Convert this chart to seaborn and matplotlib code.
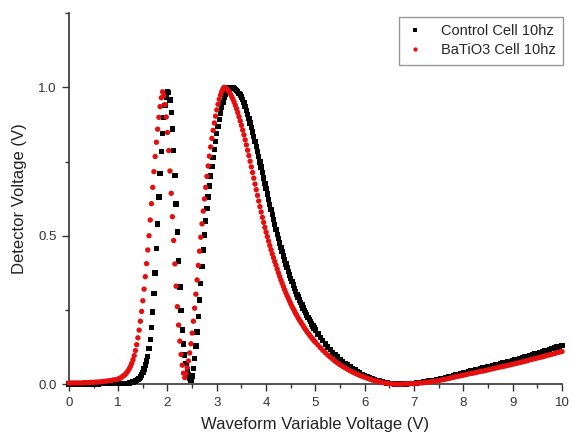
import pandas as pd
import matplotlib
matplotlib.use("Agg")
import matplotlib.pyplot as plt
from matplotlib.ticker import MultipleLocator
import seaborn as sns

# sample voltages (V), in three stretches
x_left = [0.00, 0.05, 0.10, 0.15, 0.20, 0.25, 0.30, 0.35, 0.40, 0.45,
          0.50, 0.55, 0.60, 0.65, 0.70, 0.75, 0.80, 0.85, 0.90, 0.95]
x_mid = [1.000, 1.025, 1.050, 1.075, 1.100, 1.125, 1.150, 1.175,
         1.200, 1.225, 1.250, 1.275, 1.300, 1.325, 1.350, 1.375,
         1.400, 1.425, 1.450, 1.475, 1.500, 1.525, 1.550, 1.575,
         1.600, 1.625, 1.650, 1.675, 1.700, 1.725, 1.750, 1.775,
         1.800, 1.825, 1.850, 1.875, 1.900, 1.925, 1.950, 1.975,
         2.000, 2.025, 2.050, 2.075, 2.100, 2.125, 2.150, 2.175,
         2.200, 2.225, 2.250, 2.275, 2.300, 2.325, 2.350, 2.375,
         2.400, 2.425, 2.450, 2.475, 2.500, 2.525, 2.550, 2.575,
         2.600, 2.625, 2.650, 2.675, 2.700, 2.725, 2.750, 2.775,
         2.800, 2.825, 2.850, 2.875, 2.900, 2.925, 2.950, 2.975,
         3.000, 3.025, 3.050, 3.075, 3.100, 3.125, 3.150, 3.175,
         3.200, 3.225, 3.250, 3.275, 3.300, 3.325, 3.350, 3.375,
         3.400, 3.425, 3.450, 3.475, 3.500, 3.525, 3.550, 3.575,
         3.600, 3.625, 3.650, 3.675, 3.700, 3.725, 3.750, 3.775,
         3.800, 3.825, 3.850, 3.875, 3.900, 3.925, 3.950, 3.975,
         4.000, 4.025, 4.050, 4.075, 4.100, 4.125, 4.150, 4.175,
         4.200, 4.225, 4.250, 4.275, 4.300, 4.325, 4.350, 4.375,
         4.400, 4.425, 4.450, 4.475, 4.500, 4.525, 4.550, 4.575,
         4.600, 4.625, 4.650, 4.675, 4.700, 4.725, 4.750, 4.775,
         4.800, 4.825, 4.850, 4.875, 4.900, 4.925, 4.950, 4.975]
x_right = [5.00, 5.05, 5.10, 5.15, 5.20, 5.25, 5.30, 5.35, 5.40, 5.45,
           5.50, 5.55, 5.60, 5.65, 5.70, 5.75, 5.80, 5.85, 5.90, 5.95,
           6.00, 6.05, 6.10, 6.15, 6.20, 6.25, 6.30, 6.35, 6.40, 6.45,
           6.50, 6.55, 6.60, 6.65, 6.70, 6.75, 6.80, 6.85, 6.90, 6.95,
           7.00, 7.05, 7.10, 7.15, 7.20, 7.25, 7.30, 7.35, 7.40, 7.45,
           7.50, 7.55, 7.60, 7.65, 7.70, 7.75, 7.80, 7.85, 7.90, 7.95,
           8.00, 8.05, 8.10, 8.15, 8.20, 8.25, 8.30, 8.35, 8.40, 8.45,
           8.50, 8.55, 8.60, 8.65, 8.70, 8.75, 8.80, 8.85, 8.90, 8.95,
           9.00, 9.05, 9.10, 9.15, 9.20, 9.25, 9.30, 9.35, 9.40, 9.45,
           9.50, 9.55, 9.60, 9.65, 9.70, 9.75, 9.80, 9.85, 9.90, 9.95,
           10.00]

# detector voltage, control cell
control_left = [0.001, 0.001, 0.001, 0.001, 0.001, 0.001, 0.001, 0.001, 0.001, 0.001,
                0.001, 0.001, 0.001, 0.002, 0.002, 0.002, 0.002, 0.002, 0.002, 0.002]
control_mid = [0.002, 0.002, 0.002, 0.002, 0.003, 0.003, 0.003, 0.003,
               0.003, 0.004, 0.005, 0.006, 0.007, 0.008, 0.010, 0.012,
               0.015, 0.019, 0.024, 0.031, 0.040, 0.051, 0.064, 0.078,
               0.094, 0.120, 0.150, 0.190, 0.243, 0.305, 0.374, 0.456,
               0.540, 0.630, 0.710, 0.783, 0.845, 0.898, 0.938, 0.968,
               0.986, 0.982, 0.957, 0.915, 0.859, 0.787, 0.703, 0.607,
               0.512, 0.415, 0.327, 0.248, 0.182, 0.135, 0.098, 0.070,
               0.048, 0.031, 0.019, 0.014, 0.028, 0.052, 0.086, 0.128,
               0.176, 0.228, 0.283, 0.340, 0.397, 0.452, 0.503, 0.549,
               0.591, 0.630, 0.667, 0.701, 0.733, 0.763, 0.791, 0.818,
               0.844, 0.868, 0.891, 0.913, 0.933, 0.951, 0.966, 0.978,
               0.987, 0.994, 0.998, 1.000, 1.000, 0.999, 0.997, 0.993,
               0.989, 0.985, 0.980, 0.974, 0.967, 0.958, 0.948, 0.936,
               0.922, 0.909, 0.895, 0.880, 0.865, 0.850, 0.834, 0.818,
               0.801, 0.784, 0.767, 0.749, 0.731, 0.713, 0.695, 0.677,
               0.659, 0.641, 0.623, 0.605, 0.588, 0.571, 0.554, 0.537,
               0.521, 0.505, 0.490, 0.475, 0.460, 0.446, 0.432, 0.418,
               0.405, 0.392, 0.380, 0.368, 0.356, 0.345, 0.334, 0.323,
               0.313, 0.303, 0.293, 0.284, 0.275, 0.266, 0.257, 0.249,
               0.241, 0.233, 0.225, 0.217, 0.210, 0.203, 0.196, 0.189]
control_right = [0.182, 0.169, 0.157, 0.146, 0.135, 0.125, 0.116, 0.107, 0.099, 0.091,
                 0.084, 0.077, 0.070, 0.064, 0.058, 0.052, 0.047, 0.042, 0.037, 0.033,
                 0.029, 0.025, 0.021, 0.018, 0.015, 0.012, 0.010, 0.008, 0.006, 0.004,
                 0.003, 0.002, 0.001, 0.001, 0.000, 0.000, 0.001, 0.001, 0.002, 0.002,
                 0.003, 0.004, 0.005, 0.006, 0.007, 0.008, 0.010, 0.011, 0.013, 0.014,
                 0.016, 0.018, 0.020, 0.022, 0.024, 0.026, 0.029, 0.031, 0.033, 0.035,
                 0.038, 0.040, 0.042, 0.044, 0.046, 0.048, 0.050, 0.052, 0.054, 0.056,
                 0.058, 0.060, 0.062, 0.064, 0.066, 0.068, 0.071, 0.073, 0.075, 0.077,
                 0.080, 0.082, 0.084, 0.087, 0.089, 0.091, 0.094, 0.096, 0.099, 0.101,
                 0.104, 0.106, 0.109, 0.111, 0.114, 0.117, 0.119, 0.122, 0.125, 0.127,
                 0.130]

# detector voltage, BaTiO3 cell
batio3_left = [0.004, 0.004, 0.004, 0.004, 0.004, 0.004, 0.005, 0.005, 0.005, 0.006,
               0.006, 0.007, 0.007, 0.008, 0.009, 0.010, 0.011, 0.012, 0.014, 0.015]
batio3_mid = [0.017, 0.019, 0.021, 0.024, 0.027, 0.030, 0.034, 0.039,
              0.045, 0.052, 0.060, 0.070, 0.082, 0.096, 0.113, 0.133,
              0.156, 0.182, 0.212, 0.245, 0.281, 0.320, 0.362, 0.406,
              0.452, 0.500, 0.553, 0.608, 0.663, 0.716, 0.767, 0.815,
              0.859, 0.899, 0.935, 0.965, 0.985, 0.972, 0.942, 0.900,
              0.848, 0.787, 0.718, 0.643, 0.564, 0.484, 0.405, 0.330,
              0.261, 0.199, 0.145, 0.100, 0.064, 0.037, 0.022, 0.036,
              0.055, 0.078, 0.105, 0.136, 0.172, 0.212, 0.256, 0.303,
              0.351, 0.400, 0.448, 0.495, 0.540, 0.583, 0.624, 0.663,
              0.700, 0.735, 0.768, 0.799, 0.828, 0.855, 0.880, 0.903,
              0.924, 0.943, 0.960, 0.974, 0.986, 0.995, 1.000, 0.999,
              0.996, 0.991, 0.985, 0.978, 0.970, 0.961, 0.951, 0.940,
              0.928, 0.915, 0.901, 0.887, 0.872, 0.856, 0.840, 0.823,
              0.806, 0.788, 0.770, 0.751, 0.732, 0.713, 0.694, 0.674,
              0.655, 0.636, 0.617, 0.598, 0.580, 0.562, 0.545, 0.528,
              0.512, 0.497, 0.482, 0.467, 0.453, 0.439, 0.426, 0.413,
              0.401, 0.388, 0.375, 0.363, 0.351, 0.340, 0.329, 0.318,
              0.308, 0.298, 0.289, 0.280, 0.271, 0.262, 0.254, 0.246,
              0.238, 0.231, 0.223, 0.216, 0.210, 0.203, 0.197, 0.190,
              0.184, 0.178, 0.172, 0.167, 0.161, 0.156, 0.151, 0.146]
batio3_right = [0.141, 0.132, 0.123, 0.114, 0.106, 0.098, 0.091, 0.084, 0.077, 0.071,
                0.065, 0.060, 0.055, 0.050, 0.045, 0.041, 0.037, 0.033, 0.029, 0.026,
                0.023, 0.020, 0.017, 0.014, 0.012, 0.010, 0.008, 0.006, 0.004, 0.003,
                0.002, 0.001, 0.000, 0.000, 0.000, 0.000, 0.001, 0.001, 0.001, 0.002,
                0.002, 0.003, 0.004, 0.004, 0.005, 0.006, 0.007, 0.008, 0.009, 0.011,
                0.012, 0.014, 0.015, 0.017, 0.019, 0.021, 0.023, 0.025, 0.027, 0.028,
                0.030, 0.032, 0.034, 0.036, 0.037, 0.039, 0.041, 0.043, 0.044, 0.046,
                0.048, 0.050, 0.052, 0.054, 0.056, 0.058, 0.059, 0.061, 0.063, 0.065,
                0.067, 0.069, 0.071, 0.073, 0.075, 0.077, 0.079, 0.082, 0.084, 0.086,
                0.088, 0.090, 0.092, 0.094, 0.097, 0.099, 0.101, 0.103, 0.106, 0.108,
                0.110]

series_names = ["Control Cell 10hz", "BaTiO3 Cell 10hz"]

x_volts = x_left + x_mid + x_right
control = control_left + control_mid + control_right
batio3 = batio3_left + batio3_mid + batio3_right

df = pd.DataFrame({
    "x": x_volts + x_volts,
    "y": control + batio3,
    "series": [series_names[0]] * len(x_volts) + [series_names[1]] * len(x_volts),
})

sns.set_style("ticks")
plt.rcParams["font.family"] = ["Liberation Sans", "DejaVu Sans"]

fig = plt.figure(figsize=(5.74, 4.38), dpi=100)
ax = fig.add_axes([0.120, 0.123, 0.859, 0.847])

sns.scatterplot(data=df, x="x", y="y", hue="series", style="series",
                palette={series_names[0]: "black", series_names[1]: "#e41010"},
                markers={series_names[0]: "s", series_names[1]: "o"},
                s=15, linewidth=0, ax=ax, clip_on=False, zorder=3)

ax.set_xlim(0, 10)
ax.set_ylim(0, 1.25)
ax.xaxis.set_major_locator(MultipleLocator(1))
ax.xaxis.set_minor_locator(MultipleLocator(0.5))
ax.yaxis.set_major_locator(MultipleLocator(0.5))
ax.yaxis.set_minor_locator(MultipleLocator(0.25))
ax.tick_params(which="major", direction="out", length=5, width=1, labelsize=9.5,
               colors="#333333", pad=4)
ax.tick_params(which="minor", direction="out", length=3, width=1, colors="#333333")
ax.yaxis.set_major_formatter(plt.FuncFormatter(lambda v, p: f"{v:.1f}"))
sns.despine(ax=ax)
for side in ["left", "bottom"]:
    ax.spines[side].set_color("#333333")
    ax.spines[side].set_linewidth(1.2)

ax.set_xlabel("Waveform Variable Voltage (V)", fontsize=12, color="#222222", labelpad=6)
ax.set_ylabel("Detector Voltage (V)", fontsize=12, color="#222222", labelpad=8)

handles, labels = ax.get_legend_handles_labels()
leg = ax.legend(handles, labels, loc="upper right",
                bbox_to_anchor=(563 / 574, 1 - 17 / 438), bbox_transform=fig.transFigure,
                borderaxespad=0, frameon=True, fancybox=False, fontsize=10.5,
                handlelength=1.2, handletextpad=1.2, labelspacing=0.35,
                borderpad=0.5, markerscale=0.8)
leg.get_frame().set_edgecolor("#7f7f7f")
leg.get_frame().set_linewidth(1.0)

fig.savefig("out.png", dpi=100)
